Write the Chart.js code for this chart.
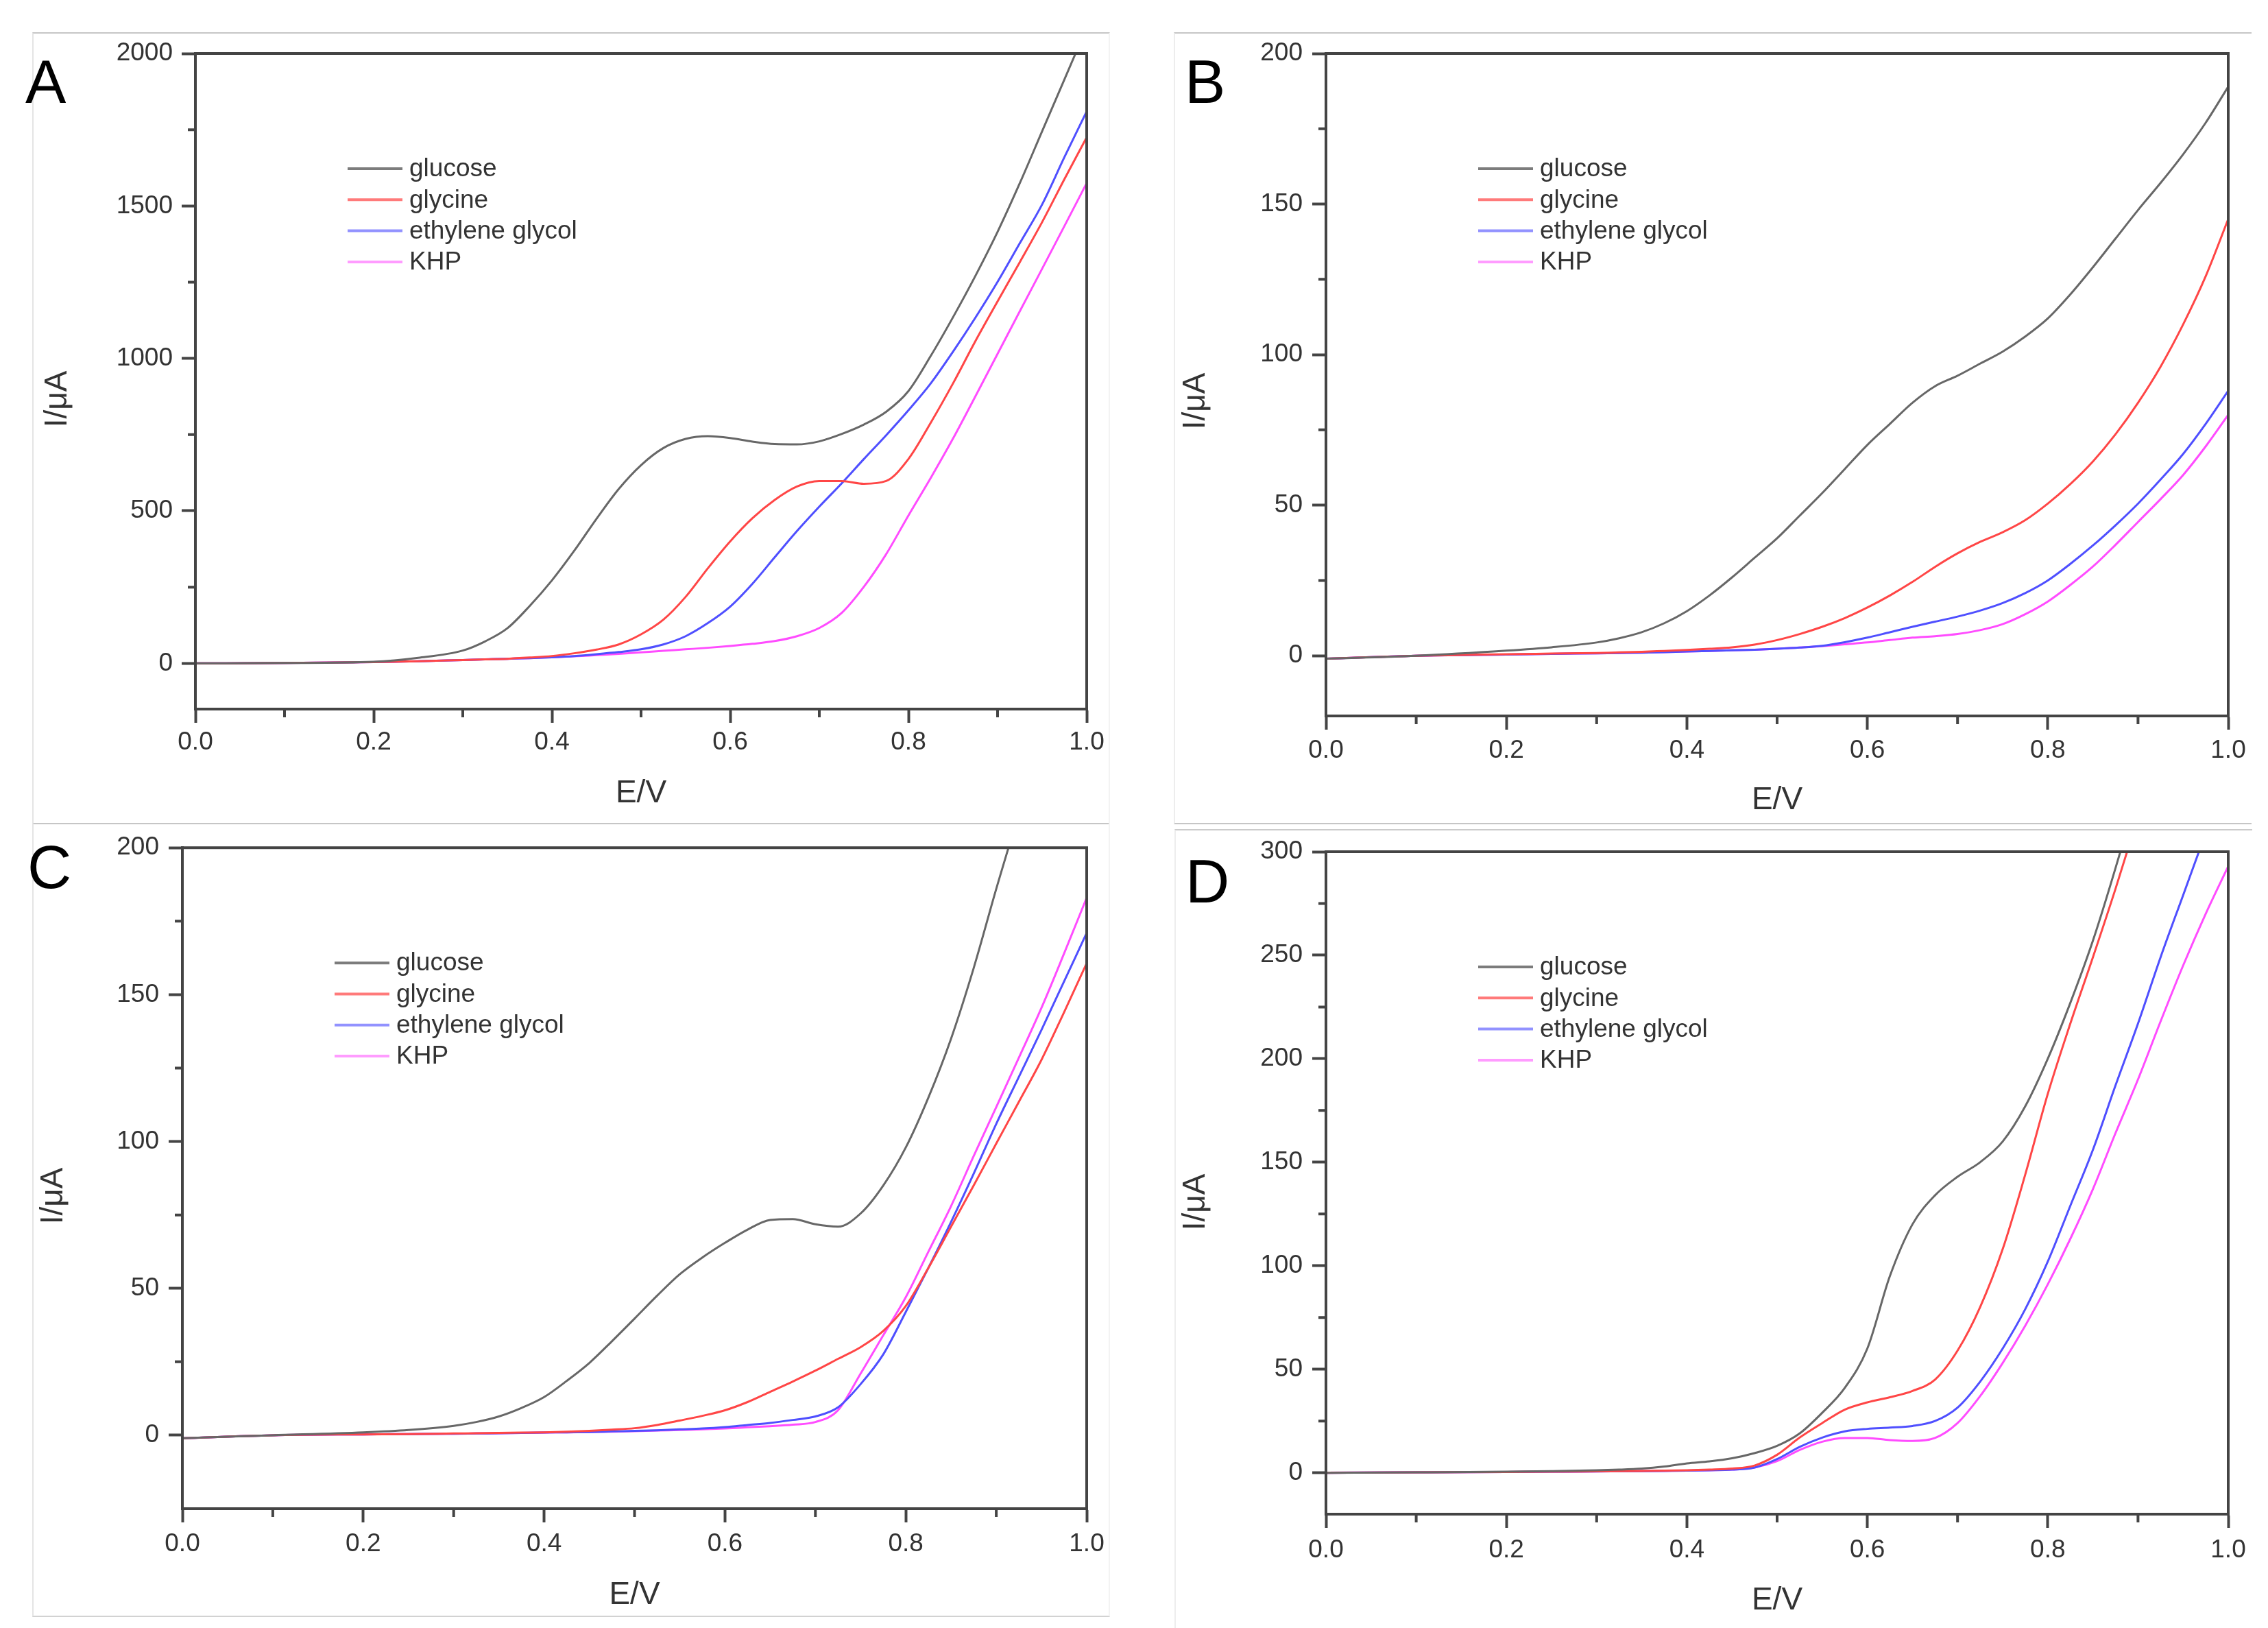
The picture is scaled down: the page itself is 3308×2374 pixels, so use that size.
<!DOCTYPE html>
<html>
<head>
<meta charset="utf-8">
<script src="https://cdn.jsdelivr.net/npm/chart.js@4.4.1/dist/chart.umd.min.js"></script>
<style>
html,body{margin:0;padding:0;background:#fff;width:3308px;height:2374px;overflow:hidden;}
canvas{position:absolute;}
.frame{position:absolute;box-sizing:border-box;}
</style>
</head>
<body>
<div class="frame" style="left:47px;top:47px;width:1572px;height:1155px;border-top:2px solid #c6c6c6;border-left:2px solid #e4e4e4;border-right:2px solid #f3f3f3;border-bottom:2px solid #c6c6c6;"></div>
<div class="frame" style="left:47px;top:1201px;width:1572px;height:1157px;border-left:2px solid #e4e4e4;border-right:2px solid #f3f3f3;border-bottom:2px solid #d2d2d2;"></div>
<div class="frame" style="left:1712px;top:47px;width:1572px;height:1155px;border-top:2px solid #c6c6c6;border-left:2px solid #ededed;border-bottom:2px solid #c6c6c6;"></div>
<div class="frame" style="left:1713px;top:1209px;width:1572px;height:1165px;border-top:2px solid #cbcbcb;border-left:2px solid #ededed;"></div>

<canvas id="cA" width="1654" height="1200" style="left:0px;top:0px;width:1654px;height:1200px"></canvas>
<canvas id="cB" width="1654" height="1200" style="left:1654px;top:0px;width:1654px;height:1200px"></canvas>
<canvas id="cC" width="1654" height="1174" style="left:0px;top:1200px;width:1654px;height:1174px"></canvas>
<canvas id="cD" width="1654" height="1174" style="left:1654px;top:1200px;width:1654px;height:1174px"></canvas>

<script>
// ---------------- DATA ----------------
const SERIES = ['glucose', 'glycine', 'ethylene glycol', 'KHP'];
const PANEL_LETTERS = ['A', 'B', 'C', 'D'];
const X_TITLE = 'E/V';
const Y_TITLE = 'I/\u03bcA';

// potential (V) sample points, shared by all curves
const E = [0, 0.1, 0.2, 0.25, 0.3, 0.325, 0.35, 0.375, 0.4, 0.425, 0.45, 0.475, 0.5, 0.525, 0.55, 0.575, 0.6,
           0.625, 0.65, 0.675, 0.7, 0.725, 0.75, 0.775, 0.8, 0.825, 0.85, 0.875, 0.9, 0.925, 0.95, 0.975, 1.0];

// Panel A (uA)
const A_glucose = [0, 1, 5, 18, 42, 72, 115, 188, 272, 369, 474, 572, 650, 706, 736, 745, 739, 727, 719, 718, 728, 752, 783, 825, 893, 1008, 1135, 1270, 1415, 1575, 1745, 1915, 2085];
const A_glycine = [0, 1, 4, 7, 11, 13, 15, 19, 24, 33, 45, 62, 95, 143, 218, 312, 400, 476, 536, 580, 598, 598, 589, 598, 670, 789, 918, 1056, 1187, 1316, 1447, 1588, 1725];
const A_ethyleneGlycol = [0, 1, 4, 7, 11, 13, 15, 17, 20, 24, 30, 37, 46, 62, 89, 132, 186, 261, 348, 434, 514, 590, 670, 748, 830, 918, 1022, 1133, 1251, 1378, 1505, 1660, 1810];
const A_KHP = [0, 1, 4, 7, 11, 13, 15, 17, 20, 23, 27, 31, 36, 41, 46, 51, 57, 64, 73, 89, 116, 165, 251, 358, 485, 608, 737, 875, 1015, 1155, 1294, 1434, 1575];

// Panel B (uA)
const B_glucose = [-1, 0, 1.7, 2.8, 4.4, 5.8, 7.8, 10.8, 14.8, 20, 26, 32.5, 39, 46.5, 54, 62, 70, 77, 84, 89.5, 93, 97, 101, 106, 112, 120, 129, 138.5, 148, 157, 166.5, 177, 189];
const B_glycine = [-1, 0, 0.5, 0.7, 0.9, 1.1, 1.3, 1.6, 1.9, 2.3, 2.8, 3.7, 5.2, 7.2, 9.6, 12.5, 16, 20, 24.5, 29.5, 34, 37.8, 41, 45, 50.5, 57, 64.5, 73.5, 84, 96, 110, 126, 145];
const B_ethyleneGlycol = [-1, 0, 0.4, 0.6, 0.8, 0.9, 1.0, 1.2, 1.4, 1.6, 1.8, 2.0, 2.3, 2.7, 3.3, 4.5, 6, 7.8, 9.6, 11.3, 13, 15, 17.5, 20.8, 25, 30.5, 36.6, 43.3, 50.5, 58.5, 67, 77, 88];
const B_KHP = [-1, 0, 0.4, 0.6, 0.8, 0.9, 1.0, 1.2, 1.4, 1.6, 1.8, 2.0, 2.3, 2.7, 3.2, 3.8, 4.4, 5.2, 6, 6.5, 7.2, 8.5, 10.5, 13.8, 18, 23.5, 29.6, 36.8, 44.4, 52, 60, 69.5, 80];

// Panel C (uA)
const C_glucose = [-1, 0, 1, 1.8, 3.2, 4.5, 6.4, 9.3, 13, 18.5, 24.6, 32, 39.7, 47.5, 54.8, 60.5, 65.5, 70, 73.3, 73.6, 71.8, 71, 75.5, 85, 98, 115, 135, 159, 186, 212, 240, 270, 300];
const C_glycine = [-1, 0, 0.3, 0.4, 0.6, 0.7, 0.8, 0.9, 1.0, 1.2, 1.5, 1.9, 2.4, 3.5, 5, 6.6, 8.5, 11.3, 14.8, 18.3, 22, 26, 30, 35.5, 44, 57, 71, 85, 99.3, 113.5, 127.8, 144, 160.7];
const C_ethyleneGlycol = [-1, 0, 0.3, 0.4, 0.5, 0.6, 0.7, 0.8, 0.9, 1.0, 1.1, 1.3, 1.5, 1.7, 2.0, 2.3, 2.8, 3.5, 4.2, 5.2, 6.4, 9.5, 17.4, 27.5, 42, 57, 72.6, 89, 106, 122, 138, 154.5, 171];
const C_KHP = [-1, 0, 0.3, 0.4, 0.5, 0.6, 0.7, 0.8, 0.9, 1.0, 1.1, 1.2, 1.4, 1.6, 1.8, 2.0, 2.3, 2.7, 3.1, 3.6, 4.5, 8.5, 21, 34, 47, 62.5, 78, 95, 111.7, 128.5, 145.5, 164, 183];

// Panel D (uA)
const D_glucose = [0, 0.2, 0.5, 0.8, 1.2, 1.5, 2, 3, 4.5, 5.5, 7, 9.5, 13, 19, 29, 41, 60, 95, 120, 134, 143, 150, 160, 177, 200, 227, 257, 292, 330, 372, 415, 458, 500];
const D_glycine = [0, 0.2, 0.4, 0.5, 0.7, 0.8, 0.9, 1.0, 1.2, 1.5, 2, 3.5, 8.7, 17, 24, 30.5, 34, 36.5, 39.5, 45, 59, 80, 108, 144, 183, 217, 249, 282, 317, 352, 387, 420, 450];
const D_ethyleneGlycol = [0, 0.2, 0.4, 0.5, 0.6, 0.7, 0.8, 0.9, 1.0, 1.2, 1.5, 2.5, 6.6, 12.5, 17, 20, 21.2, 21.8, 22.6, 25, 31.5, 44, 60, 79, 102, 129, 156, 187, 217, 249, 279, 309, 340];
const D_KHP = [0, 0.2, 0.4, 0.5, 0.6, 0.7, 0.8, 0.9, 1.0, 1.2, 1.5, 2.5, 5.6, 11, 15, 16.8, 16.8, 15.8, 15.4, 16.8, 24, 37, 53, 71, 91, 113, 137, 164, 190, 218, 245, 270, 293];

// axis ranges and tick values
const X_RANGE = [0, 1];
const X_TICKS = [0, 0.2, 0.4, 0.6, 0.8, 1.0];
const X_MINOR = [0.1, 0.3, 0.5, 0.7, 0.9];
const A_Y_RANGE = [-150, 2000], A_Y_TICKS = [0, 500, 1000, 1500, 2000], A_Y_MINOR = [250, 750, 1250, 1750];
const B_Y_RANGE = [-20, 200],   B_Y_TICKS = [0, 50, 100, 150, 200],     B_Y_MINOR = [25, 75, 125, 175];
const C_Y_RANGE = [-25, 200],   C_Y_TICKS = [0, 50, 100, 150, 200],     C_Y_MINOR = [25, 75, 125, 175];
const D_Y_RANGE = [-20, 300],   D_Y_TICKS = [0, 50, 100, 150, 200, 250, 300], D_Y_MINOR = [25, 75, 125, 175, 225, 275];

// ---------------- STYLE ----------------
const FONT = "'Liberation Sans', Arial, Helvetica, sans-serif";
const LINE_COLORS = ['#676767', '#ff4646', '#4f4fff', '#ff4cff'];
const LEGEND_COLORS = ['#7c7c7c', '#ff7a7a', '#9292ff', '#ff9cff'];
const AXIS_COLOR = '#444444';
const TEXT_COLOR = '#333333';

const PANELS = [
  { canvas: 'cA', letter: PANEL_LETTERS[0], series: [A_glucose, A_glycine, A_ethyleneGlycol, A_KHP],
    yRange: A_Y_RANGE, yTicks: A_Y_TICKS, yMinor: A_Y_MINOR,
    pad: {left: 20, right: 69, top: 78, bottom: 15}, yW: 265, xH: 151, xTickPad: 7, yTickPad: 13,
    yTitle: [84, 582], letterPos: [37, 150] },
  { canvas: 'cB', letter: PANEL_LETTERS[1], series: [B_glucose, B_glycine, B_ethyleneGlycol, B_KHP],
    yRange: B_Y_RANGE, yTicks: B_Y_TICKS, yMinor: B_Y_MINOR,
    pad: {left: 20, right: 58, top: 78, bottom: 5}, yW: 260, xH: 151, xTickPad: 9, yTickPad: 14,
    yTitle: [90, 585], letterPos: [74, 150] },
  { canvas: 'cC', letter: PANEL_LETTERS[2], series: [C_glucose, C_glycine, C_ethyleneGlycol, C_KHP],
    yRange: C_Y_RANGE, yTicks: C_Y_TICKS, yMinor: C_Y_MINOR,
    pad: {left: 20, right: 69, top: 31, bottom: 20}, yW: 246, xH: 154, xTickPad: 10, yTickPad: 14,
    yTitle: [78, 544], letterPos: [40, 95] },
  { canvas: 'cD', letter: PANEL_LETTERS[3], series: [D_glucose, D_glycine, D_ethyleneGlycol, D_KHP],
    yRange: D_Y_RANGE, yTicks: D_Y_TICKS, yMinor: D_Y_MINOR,
    pad: {left: 20, right: 58, top: 42, bottom: 12}, yW: 260, xH: 154, xTickPad: 11, yTickPad: 14,
    yTitle: [90, 553], letterPos: [75, 116] }
];

// plugin: frame, minor ticks, y title, legend, panel letter
const decor = {
  id: 'decor',
  afterDatasetsDraw(chart, args, o) {
    const ctx = chart.ctx;
    const {left, right, top, bottom} = chart.chartArea;
    const xs = chart.scales.x, ys = chart.scales.y;
    ctx.save();
    ctx.strokeStyle = AXIS_COLOR;
    ctx.lineWidth = 4;
    ctx.lineCap = 'butt';
    ctx.strokeRect(left, top, right - left, bottom - top);
    ctx.beginPath();
    X_MINOR.forEach(v => {
      const px = xs.getPixelForValue(v);
      ctx.moveTo(px, bottom);
      ctx.lineTo(px, bottom + 12);
    });
    o.yMinor.forEach(v => {
      const py = ys.getPixelForValue(v);
      ctx.moveTo(left, py);
      ctx.lineTo(left - 11, py);
    });
    ctx.stroke();

    // y-axis title
    ctx.fillStyle = TEXT_COLOR;
    ctx.font = '46px ' + FONT;
    ctx.textAlign = 'center';
    ctx.textBaseline = 'middle';
    ctx.save();
    ctx.translate(o.yTitle[0], o.yTitle[1]);
    ctx.rotate(-Math.PI / 2);
    ctx.fillText(Y_TITLE, 0, 0);
    ctx.restore();

    // legend
    ctx.font = '37px ' + FONT;
    ctx.textAlign = 'left';
    chart.data.datasets.forEach((ds, i) => {
      const y = top + 168 + i * 45.3;
      ctx.strokeStyle = LEGEND_COLORS[i];
      ctx.lineWidth = 4;
      ctx.beginPath();
      ctx.moveTo(left + 222, y);
      ctx.lineTo(left + 302, y);
      ctx.stroke();
      ctx.fillStyle = TEXT_COLOR;
      ctx.fillText(ds.label, left + 312, y + 1);
    });

    // panel letter
    ctx.fillStyle = '#000';
    ctx.font = '89px ' + FONT;
    ctx.textBaseline = 'alphabetic';
    ctx.fillText(o.letter, o.letterPos[0], o.letterPos[1]);
    ctx.restore();
  }
};

PANELS.forEach(p => {
  const datasets = p.series.map((vals, i) => ({
    label: SERIES[i],
    data: E.map((x, k) => ({x: x, y: vals[k]})),
    borderColor: LINE_COLORS[i],
    backgroundColor: LINE_COLORS[i],
    borderWidth: 3,
    pointRadius: 0,
    fill: false,
    cubicInterpolationMode: 'monotone'
  }));
  new Chart(document.getElementById(p.canvas), {
    type: 'line',
    data: {datasets},
    plugins: [decor],
    options: {
      responsive: false,
      animation: false,
      devicePixelRatio: 1,
      layout: {padding: p.pad},
      plugins: {
        legend: {display: false},
        tooltip: {enabled: false},
        decor: {yMinor: p.yMinor, yTitle: p.yTitle, letter: p.letter, letterPos: p.letterPos}
      },
      scales: {
        x: {
          type: 'linear', position: 'bottom', min: X_RANGE[0], max: X_RANGE[1],
          afterBuildTicks: s => { s.ticks = X_TICKS.map(v => ({value: v})); },
          ticks: {callback: v => Number(v).toFixed(1), color: TEXT_COLOR,
                  font: {family: FONT, size: 37}, padding: p.xTickPad, maxRotation: 0, autoSkip: false},
          grid: {drawOnChartArea: false, drawTicks: true, tickLength: 20, tickWidth: 4, tickColor: AXIS_COLOR, color: AXIS_COLOR},
          border: {display: true, color: AXIS_COLOR, width: 4},
          title: {display: true, text: X_TITLE, color: TEXT_COLOR, font: {family: FONT, size: 46}, padding: 0},
          afterFit: s => { s.height = p.xH; }
        },
        y: {
          type: 'linear', position: 'left', min: p.yRange[0], max: p.yRange[1],
          afterBuildTicks: s => { s.ticks = p.yTicks.map(v => ({value: v})); },
          ticks: {callback: v => String(v), color: TEXT_COLOR,
                  font: {family: FONT, size: 37}, padding: p.yTickPad, autoSkip: false},
          grid: {drawOnChartArea: false, drawTicks: true, tickLength: 20, tickWidth: 4, tickColor: AXIS_COLOR, color: AXIS_COLOR},
          border: {display: true, color: AXIS_COLOR, width: 4},
          title: {display: false},
          afterFit: s => { s.width = p.yW; }
        }
      }
    }
  });
});
</script>
</body>
</html>
